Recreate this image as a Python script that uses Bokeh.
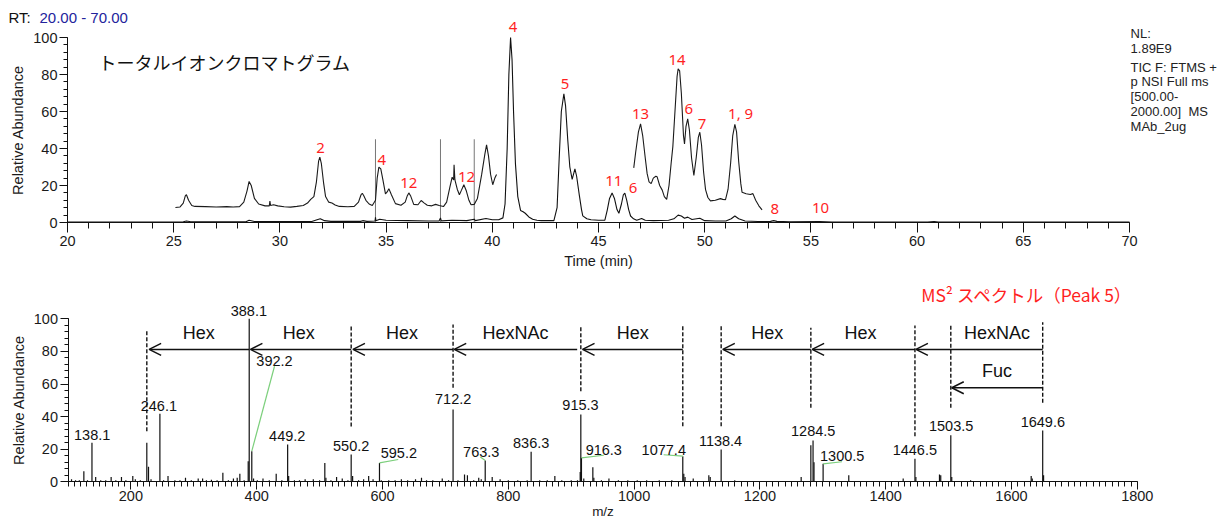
from bokeh.plotting import figure
from bokeh.models import Range1d, SingleIntervalTicker, Label, Arrow, OpenHead, LinearAxis
from bokeh.layouts import column
from bokeh.embed import file_html
from bokeh.resources import INLINE
from bokeh.core.properties import value

# ---------------- chromatogram data ----------------
tic_time = [20.0, 25.0, 25.45, 25.6, 25.8, 28.4, 28.55, 28.8, 31.5, 31.75, 31.9, 32.1, 32.4, 33.8, 33.9, 34.1,
            34.48, 34.5, 34.52, 34.7, 35.0, 36.0, 37.0, 37.5, 37.56, 37.6, 38.1, 38.8, 39.15, 39.2, 39.7, 40.0,
            40.3, 40.5, 40.6, 40.7, 40.78, 40.86, 40.93, 41.0, 41.09, 41.2, 41.33, 41.45, 41.55, 41.72, 41.9,
            42.1, 42.3, 42.9, 43.05, 43.15, 43.25, 43.37, 43.45, 43.55, 43.65, 43.76, 43.89, 43.97, 44.1, 44.2,
            44.26, 44.45, 44.65, 45.0, 45.3, 45.41, 45.52, 45.64, 45.75, 45.87, 45.96, 46.08, 46.17, 46.24, 46.33,
            46.42, 46.51, 46.65, 46.8, 47.03, 47.2, 47.58, 48.3, 48.55, 48.75, 48.9, 49.05, 49.2, 49.4, 49.77,
            50.0, 50.5, 51.0, 51.25, 51.42, 51.6, 51.9, 52.5, 53.1, 53.25, 53.4, 54.0, 55.4, 56.0, 60.5, 60.8,
            61.0, 70.0]
tic_abund = [0.3, 0.3, 0.4, 0.8, 0.4, 0.4, 1.2, 0.5, 0.5, 1.5, 2.0, 1.0, 0.6, 0.6, 1.0, 0.6,
             0.8, 2.8, 1.0, 1.8, 1.2, 1.0, 0.8, 0.9, 2.5, 0.9, 1.2, 1.0, 1.8, 1.0, 2.2, 1.5,
             1.5, 2.5, 10.0, 40.0, 80.0, 100.0, 88.0, 60.0, 31.7, 14.0, 6.5, 5.8, 5.0, 3.0, 1.8,
             1.2, 1.0, 1.0, 8.0, 35.0, 60.0, 69.5, 63.0, 45.0, 30.0, 23.3, 29.0, 25.0, 14.5, 7.0,
             3.6, 2.0, 1.5, 1.2, 1.3, 6.6, 13.0, 16.0, 13.0, 7.0, 5.0, 10.0, 15.0, 15.9, 12.0,
             7.0, 3.5, 2.0, 1.2, 2.2, 1.2, 1.0, 1.2, 2.0, 4.0, 3.5, 2.3, 2.9, 1.6, 2.3,
             1.0, 0.8, 0.8, 2.0, 3.5, 2.0, 0.8, 0.5, 0.6, 1.0, 0.6, 0.4, 0.5, 0.3, 0.3, 0.5,
             0.3, 0.3]

zoom1_time = [25.08, 25.3, 25.45, 25.55, 25.6, 25.7, 25.85, 26.0, 26.5, 27.0, 27.5, 27.8, 28.1, 28.3, 28.45,
              28.55, 28.65, 28.8, 29.0, 29.3, 29.5, 29.53, 29.56, 29.7, 29.9, 30.2, 30.5, 30.8, 31.1, 31.3,
              31.45, 31.6, 31.72, 31.82, 31.88, 31.95, 32.05, 32.15, 32.3, 32.45, 32.6, 32.8, 33.2, 33.5, 33.7,
              33.82, 33.88, 33.95, 34.05, 34.2, 34.35, 34.5, 34.58, 34.66, 34.75, 34.85, 34.97, 35.05, 35.13,
              35.25, 35.44, 35.7, 35.9, 36.0, 36.07, 36.15, 36.3, 36.5, 36.65, 36.8, 36.94, 37.15, 37.33, 37.5,
              37.7, 37.85, 38.0, 38.11, 38.18, 38.2, 38.24, 38.35, 38.45, 38.55, 38.66, 38.78, 38.9, 39.0,
              39.15, 39.3, 39.5, 39.65, 39.73, 39.82, 39.92, 40.02, 40.12, 40.2]
zoom1_abund = [8.1, 8.4, 10.5, 14.5, 15.0, 12.0, 9.2, 8.7, 8.6, 8.4, 8.6, 8.4, 8.6, 11.0, 17.0,
               22.2, 20.0, 13.0, 10.0, 9.0, 9.0, 11.6, 9.2, 9.6, 9.0, 8.5, 8.3, 8.7, 9.2, 10.5,
               12.5, 14.0, 22.0, 33.0, 35.3, 32.0, 22.0, 14.0, 11.0, 10.5, 9.5, 8.7, 8.5, 8.7, 11.0,
               15.0, 15.8, 14.5, 12.0, 10.0, 9.2, 12.0, 24.0, 29.9, 29.0, 23.0, 15.5, 16.5, 18.3,
               15.0, 10.2, 9.3, 11.0, 14.5, 16.0, 14.5, 9.8, 9.6, 11.9, 10.5, 9.3, 9.0, 9.8, 9.2,
               8.6, 11.0, 19.0, 24.5, 23.0, 31.2, 23.0, 18.0, 15.0, 17.5, 20.4, 17.0, 12.0, 9.6,
               9.8, 13.0, 26.0, 37.0, 42.0, 36.0, 26.0, 20.4, 24.0, 26.0]

zoom2_time = [46.66, 46.75, 46.88, 46.98, 47.08, 47.2, 47.29, 47.38, 47.48, 47.58, 47.7, 47.76, 47.88, 48.0,
              48.1, 48.21, 48.32, 48.42, 48.5, 48.6, 48.7, 48.75, 48.82, 48.9, 49.0, 49.05, 49.12, 49.2, 49.28,
              49.38, 49.49, 49.6, 49.7, 49.77, 49.85, 49.95, 50.04, 50.15, 50.27, 50.5, 50.74, 50.85, 50.98,
              51.1, 51.22, 51.32, 51.42, 51.5, 51.6, 51.7, 51.76, 51.95, 52.15, 52.27, 52.4, 52.55, 52.7]
zoom2_abund = [29.5, 38.0, 49.0, 53.3, 47.0, 35.0, 26.4, 22.0, 21.0, 24.0, 25.0, 24.7, 20.0, 17.5,
               14.0, 12.5, 20.0, 32.0, 41.0, 60.0, 79.0, 83.0, 82.0, 70.0, 47.0, 42.5, 52.0, 56.0, 50.0,
               35.0, 25.4, 35.0, 46.0, 48.8, 42.0, 27.0, 17.8, 13.5, 11.7, 12.0, 12.9, 12.5, 12.3,
               18.0, 32.0, 47.0, 53.0, 49.0, 33.0, 21.0, 16.3, 15.5, 15.1, 15.6, 12.0, 9.0, 6.8]

spike_time = [34.5, 37.56, 39.15]
spike_height = [45.0, 45.0, 45.0]

peak_names = ["2", "4", "12", "12", "4", "5", "11", "6", "13", "14", "6", "7", "1, 9", "8", "10"]
peak_label_t = [31.91, 34.8, 36.07, 38.79, 40.98, 43.42, 45.72, 46.63, 46.98, 48.70, 49.25, 49.88, 51.69, 53.3, 55.45]
peak_label_a = [40.4, 33.9, 21.3, 24.5, 105.6, 75.0, 22.7, 18.8, 58.8, 87.6, 61.4, 53.0, 59.1, 7.4, 7.7]

info_lines = ["NL:", "1.89E9", "TIC F: FTMS +", "p NSI Full ms", "[500.00-", "2000.00]\u00a0\u00a0MS", "MAb_2ug"]
info_a = [102.0, 93.8, 83.8, 76.2, 68.1, 60.0, 51.9]

# ---------------- MS2 spectrum data ----------------
ms_mz = [105.6, 112, 118, 125.2, 131, 138.1, 144, 152, 160, 168.6, 176, 185, 192, 203, 207, 215, 225.3, 228,
         232, 246.1, 252, 259, 270, 278, 286.8, 296, 307, 314, 320, 328, 337, 346.2, 355, 363, 369, 373.2,
         380, 386.5, 388.1, 392.2, 395, 401, 410, 420, 431, 440, 449.2, 450.8, 460, 468, 477, 490, 500,
         508.3, 510, 518, 527, 536, 545, 550.2, 552.5, 562, 570, 578, 585, 595.2, 598, 610, 620, 630, 640,
         652.5, 662, 670, 680, 695, 705, 712.2, 720, 730.4, 735, 745, 753, 757, 763.3, 774.4, 787, 800,
         815, 830, 836.3, 850, 862, 874, 885, 900, 910, 914.3, 915.3, 916.3, 920, 934.4, 936, 948, 960,
         975, 990, 1005, 1020, 1040, 1060, 1077.4, 1079, 1081, 1094, 1118.8, 1121, 1138.4, 1160, 1265.6,
         1281.0, 1284.5, 1286.0, 1300.5, 1341.3, 1427.8, 1446.5, 1448, 1485.5, 1487.5, 1503.5, 1505,
         1535, 1631.3, 1633, 1649.6, 1651]
ms_int = [1.5, 1.0, 1.0, 6.5, 1.0, 23.9, 3.0, 1.0, 1.0, 3.0, 1.0, 3.0, 1.0, 3.5, 1.5, 1.0, 23.9, 9.2,
          1.5, 41.7, 1.0, 3.5, 1.0, 1.0, 2.5, 1.0, 2.0, 2.0, 1.0, 1.2, 1.0, 5.5, 1.0, 2.0, 2.5, 5.0,
          1.0, 12.6, 100.0, 18.8, 2.0, 1.0, 2.0, 1.0, 5.0, 1.0, 22.9, 3.5, 1.0, 1.0, 1.5, 1.5, 1.0,
          11.6, 2.5, 1.0, 3.0, 2.0, 1.0, 16.7, 3.5, 1.0, 1.5, 3.5, 1.5, 11.6, 1.0, 1.0, 1.0, 1.5, 1.0,
          1.5, 2.5, 1.0, 1.0, 2.0, 1.0, 44.4, 1.0, 4.5, 4.0, 1.0, 2.5, 1.5, 13.1, 3.0, 1.5, 1.0,
          1.0, 1.0, 18.4, 1.0, 1.0, 3.5, 1.0, 1.0, 1.0, 6.0, 41.3, 14.7, 2.0, 9.0, 2.5, 1.0, 2.0,
          1.0, 1.0, 1.0, 1.0, 1.0, 1.0, 15.7, 5.0, 3.0, 2.0, 4.0, 3.0, 19.8, 1.0, 3.0,
          22.5, 25.3, 12.0, 11.0, 4.0, 2.0, 14.1, 3.0, 4.5, 4.0, 28.6, 3.0,
          1.0, 3.5, 2.0, 31.5, 4.0]

ms_labels = ["388.1", "392.2", "246.1", "138.1", "449.2", "550.2", "595.2", "712.2", "763.3", "836.3",
             "915.3", "916.3", "1077.4", "1138.4", "1284.5", "1300.5", "1446.5", "1503.5", "1649.6"]
ms_label_mz = [387.5, 428.3, 244.4, 138.4, 448.5, 550.2, 626.0, 712.4, 757.0, 836.4,
               914.8, 951.8, 1047.2, 1137.4, 1284.7, 1330.8, 1446.3, 1504.0, 1649.8]
ms_label_int = [104.7, 74.4, 46.8, 29.0, 28.0, 21.8, 17.4, 50.5, 18.4, 23.9,
                47.4, 19.4, 19.8, 25.3, 31.0, 15.7, 19.4, 34.1, 36.6]

# green leader lines: peak top -> label
leader_mz0 = [392.2, 595.2, 763.3, 916.3, 1077.4, 1300.5]
leader_int0 = [18.8, 11.6, 13.1, 14.7, 15.7, 11.0]
leader_mz1 = [428.3, 625.0, 755.5, 951.8, 1047.0, 1330.5]
leader_int1 = [70.9, 13.7, 15.2, 16.3, 16.6, 12.3]

dash_mz = [225.3, 550.2, 712.2, 915.3, 1077.4, 1138.4, 1281.0, 1446.5, 1503.5, 1649.6]
dash_lo = [31.0, 34.0, 57.7, 55.6, 34.1, 34.1, 45.4, 28.0, 45.4, 48.5]
dash_hi = [93.3, 96.5, 96.5, 95.5, 95.5, 95.5, 94.5, 95.9, 95.9, 97.9]

loss_from = [388.1, 550.2, 712.2, 909.5, 1077.4, 1281.0, 1446.5, 1649.6, 1649.6]
loss_to = [229.0, 390.0, 553.0, 714.0, 918.0, 1141.0, 1283.0, 1448.0, 1505.0]
loss_level = [81.2, 81.2, 81.2, 81.2, 81.2, 81.2, 81.2, 81.2, 57.7]
loss_names = ["Hex", "Hex", "Hex", "HexNAc", "Hex", "Hex", "Hex", "HexNAc", "Fuc"]
loss_text_mz = [308.0, 467.0, 631.0, 811.4, 998.0, 1211.6, 1360.0, 1577.0, 1577.0]
loss_text_int = [91.4, 91.4, 91.4, 91.4, 91.4, 91.4, 91.4, 91.4, 67.9]

FONT = "Liberation Sans"
TICK_FS = "14.5px"
RED = "#ff1f1f"
W = 1219


def style(p, x_lo, x_hi, y_fixed, xlabel, ylabel):
    yax = LinearAxis(fixed_location=y_fixed)
    xax = LinearAxis(fixed_location=0)
    p.add_layout(yax, "left")
    p.add_layout(xax, "below")
    p.outline_line_color = None
    p.grid.visible = False
    for ax in (xax, yax):
        ax.axis_line_color = "#111111"
        ax.major_tick_line_color = "#111111"
        ax.minor_tick_line_color = "#111111"
        ax.major_tick_in = 0
        ax.minor_tick_in = 0
        ax.major_label_text_font = FONT
        ax.major_label_text_font_size = TICK_FS
        ax.major_label_text_color = "#1a1a1a"
        ax.axis_label_text_font = FONT
        ax.axis_label_text_font_size = TICK_FS
        ax.axis_label_text_font_style = "normal"
        ax.axis_label_text_color = "#1a1a1a"
    xax.axis_label = xlabel
    xax.bounds = (x_lo, x_hi)
    yax.axis_label = ylabel
    yax.major_tick_out = 8
    yax.minor_tick_out = 4
    yax.major_label_standoff = 2
    yax.axis_label_standoff = 4
    yax.bounds = (0, 100)
    yax.ticker = SingleIntervalTicker(interval=20, num_minor_ticks=5)
    return xax


# ---------------- top: total ion chromatogram ----------------
t_px = 21.24            # pixels per minute
a_px1 = 1.85            # pixels per % (top)
H1 = 280
p1 = figure(width=W, height=H1, x_range=Range1d(20 - 67 / t_px, 20 - 67 / t_px + W / t_px),
            y_range=Range1d((222 - H1) / a_px1, 222 / a_px1), x_axis_location=None, y_axis_location=None,
            output_backend="svg", toolbar_location=None, title_location=None,
            min_border_left=0, min_border_right=0, min_border_top=0, min_border_bottom=0)
x1 = style(p1, 20, 70, 20, "Time (min)", "Relative Abundance")
x1.ticker = SingleIntervalTicker(interval=5, num_minor_ticks=5)
x1.major_tick_out = 10
x1.minor_tick_out = 6
x1.major_label_standoff = 3
x1.axis_label_standoff = 4

p1.segment(x0=spike_time, y0=[0] * len(spike_time), x1=spike_time, y1=spike_height,
           line_color="#777777", line_width=1)
p1.line(tic_time, tic_abund, line_color="#111111", line_width=1.1)
p1.line(zoom1_time, zoom1_abund, line_color="#1a1a1a", line_width=1.1)
p1.line(zoom2_time, zoom2_abund, line_color="#1a1a1a", line_width=1.1)

p1.text(x=peak_label_t, y=peak_label_a, text=peak_names, text_font=value("Noto Sans"),
        text_font_size="15px", text_color=RED, text_align="center", text_baseline="middle")
p1.text(x=[21.46], y=[87.0], text=["トータルイオンクロマトグラム"], text_font=value("Noto Sans CJK JP"),
        text_font_size="18px", text_color="#111111", text_align="left", text_baseline="middle")

p1.add_layout(Label(x=17.22, y=110.8, text="RT:", text_font=FONT, text_font_size="15px",
                    text_color="#111111", text_baseline="middle", text_align="left"))
p1.add_layout(Label(x=18.68, y=110.8, text="20.00 - 70.00", text_font=FONT, text_font_size="15px",
                    text_color="#23239c", text_baseline="middle", text_align="left"))
for line_text, ya in zip(info_lines, info_a):
    p1.add_layout(Label(x=70.05, y=ya, text=line_text, text_font=FONT, text_font_size="13px",
                        text_color="#222222", text_baseline="middle", text_align="left"))

# ---------------- bottom: MS2 spectrum ----------------
mz_px = 0.629           # pixels per m/z unit
a_px2 = 1.63            # pixels per % (bottom)
H2 = 244
base2 = 201.3           # px from top of lower figure to the zero line
p2 = figure(width=W, height=H2, x_range=Range1d(100 - 67.5 / mz_px, 100 - 67.5 / mz_px + W / mz_px),
            y_range=Range1d((base2 - H2) / a_px2, base2 / a_px2), x_axis_location=None, y_axis_location=None,
            output_backend="svg", toolbar_location=None, title_location=None,
            min_border_left=0, min_border_right=0, min_border_top=0, min_border_bottom=0)
x2 = style(p2, 100, 1800, 100, "m/z", "Relative Abundance")
x2.ticker = SingleIntervalTicker(interval=200, num_minor_ticks=20)
x2.major_tick_out = 8
x2.minor_tick_out = 5
x2.major_label_standoff = 1
x2.axis_label_standoff = 0
x2.axis_label_text_font_size = "13.5px"

p2.segment(x0=ms_mz, y0=[0] * len(ms_mz), x1=ms_mz, y1=ms_int, line_color="#111111", line_width=1.2)
p2.segment(x0=leader_mz0, y0=leader_int0, x1=leader_mz1, y1=leader_int1,
           line_color="#7ccf7c", line_width=1.2)
p2.segment(x0=dash_mz, y0=dash_lo, x1=dash_mz, y1=dash_hi, line_color="#111111",
           line_width=1.4, line_dash="4 2")
for xs, xe, yl in zip(loss_from, loss_to, loss_level):
    p2.add_layout(Arrow(end=OpenHead(size=12, line_width=1.5, line_color="#111111"),
                        x_start=xs, y_start=yl, x_end=xe, y_end=yl,
                        line_width=1.5, line_color="#111111"))
p2.text(x=loss_text_mz, y=loss_text_int, text=loss_names, text_font=value(FONT),
        text_font_size="18px", text_color="#111111", text_align="center", text_baseline="middle")
p2.text(x=ms_label_mz, y=ms_label_int, text=ms_labels, text_font=value(FONT),
        text_font_size="14.5px", text_color="#111111", text_align="center", text_baseline="middle")
p2.text(x=[1456.4], y=[114.9], text=["MS² スペクトル（Peak 5）"], text_font=value("Noto Sans CJK JP"),
        text_font_size="17.5px", text_color=RED, text_align="left", text_baseline="middle")

layout = column(p1, p2)
open("out.html", "w").write(file_html(layout, INLINE))
